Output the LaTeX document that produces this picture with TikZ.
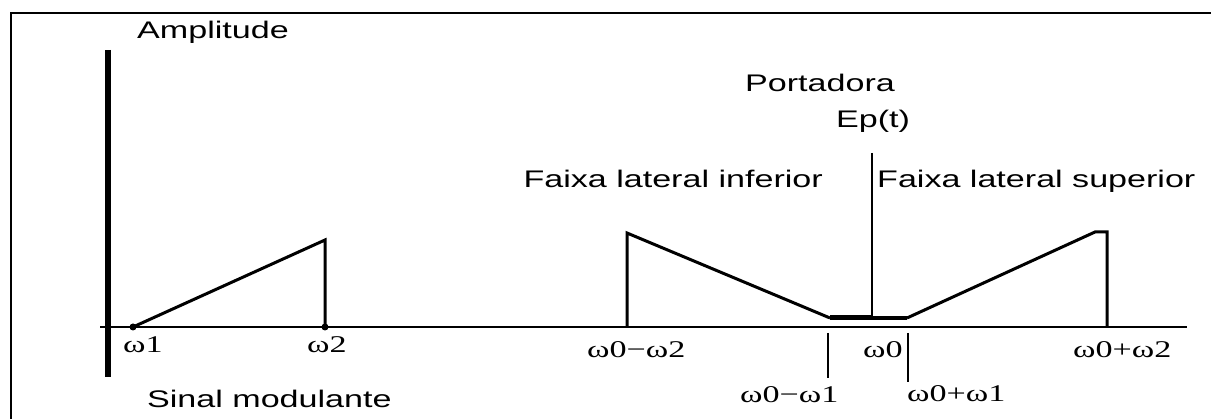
\documentclass[tikz,border=0pt]{standalone}
\usepackage{fontspec}
\usepackage{graphicx}
\newfontfamily\lbsans{Liberation Sans}
\newfontfamily\lbserif{Liberation Serif}
\newcommand{\widetxt}[1]{\scalebox{1.42}[1]{#1}}
\tikzset{
  lbl/.style={inner sep=0pt, font=\lbsans\fontsize{24}{24}\selectfont},
  om/.style={inner sep=0pt, font=\lbserif\fontsize{24}{24}\selectfont},
  frame/.style={line width=1.8pt},
  yax/.style={line width=5.5pt},
  xax/.style={line width=2.8pt},
  curve/.style={line width=3pt, line join=miter},
  flat/.style={line width=5pt},
  tick/.style={line width=2.5pt}
}
\begin{document}
\begin{tikzpicture}[x=1pt,y=-1pt]
\useasboundingbox (0,0) rectangle (1211,419);
% frame
\coordinate (f0) at (11,13);
\coordinate (f1) at (1211,13);
\coordinate (f2) at (11,419);
\draw[frame] (f2) -- (f0) -- (f1);
% axes
\coordinate (ya) at (108,50);
\coordinate (yb) at (108,377);
\coordinate (xa) at (100,327);
\coordinate (xb) at (1187,327);
\draw[yax] (ya) -- (yb);
\draw[xax] (xa) -- (xb);
% modulating signal
\coordinate (w1) at (133,327);
\coordinate (w2t) at (325,240);
\coordinate (w2) at (325,327);
\draw[curve] (w1) -- (w2t) -- (w2);
\fill (w1) circle (3.5pt);
\fill (w2) circle (3.5pt);
% lower sideband
\coordinate (l0) at (627,327);
\coordinate (l1) at (627,233);
\coordinate (l2) at (830,318);
\coordinate (c0) at (872,318);
\draw[curve] (l0) -- (l1) -- (l2);
\draw[flat] (l2) -- (c0);
% carrier
\coordinate (ct) at (872,153);
\coordinate (cb) at (872,320);
\draw[xax] (ct) -- (cb);
% upper sideband
\coordinate (u1) at (907,318);
\coordinate (u2) at (1095,232);
\coordinate (u3) at (1107,232);
\coordinate (u4) at (1107,327);
\draw[line width=3.5pt] (c0) -- (u1);
\draw[curve] (u1) -- (u2) -- (u3) -- (u4);
% ticks
\coordinate (t1a) at (828,333);
\coordinate (t1b) at (828,378);
\coordinate (t2a) at (908,333);
\coordinate (t2b) at (908,382);
\draw[tick] (t1a) -- (t1b);
\draw[tick] (t2a) -- (t2b);
% labels
\node[lbl, anchor=base west] (amp) at (137,39) {\widetxt{Amplitude}};
\node[lbl, anchor=base west] (port) at (745,92) {\widetxt{Portadora}};
\node[lbl, anchor=base] (ep) at (873,128) {\widetxt{Ep(t)}};
\node[lbl, anchor=base east] (inf) at (823,188) {\widetxt{Faixa lateral inferior}};
\node[lbl, anchor=base west] (sup) at (877,188) {\widetxt{Faixa lateral superior}};
\node[lbl, anchor=base west] (sin) at (147,408) {\widetxt{Sinal modulante}};
\node[om, anchor=base west] (lw1) at (123,353) {\widetxt{ω1}};
\node[om, anchor=base west] (lw2) at (307,353) {\widetxt{ω2}};
\node[om, anchor=base west] (lw02m) at (587,358) {\widetxt{ω0−ω2}};
\node[om, anchor=base west] (lw0) at (863,358) {\widetxt{ω0}};
\node[om, anchor=base west] (lw01m) at (740,403) {\widetxt{ω0−ω1}};
\node[om, anchor=base west] (lw01p) at (907,402) {\widetxt{ω0+ω1}};
\node[om, anchor=base west] (lw02p) at (1073,358) {\widetxt{ω0+ω2}};
\end{tikzpicture}
\end{document}
